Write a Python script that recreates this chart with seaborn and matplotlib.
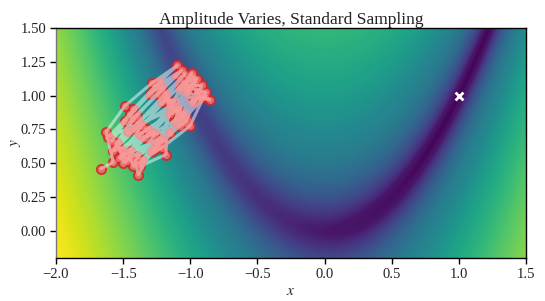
import numpy as np
import pandas as pd
import matplotlib
matplotlib.use("Agg")
import matplotlib.pyplot as plt
from matplotlib.colors import FuncNorm
import seaborn as sns

title = "Amplitude Varies, Standard Sampling"
xlabel = r"$x$"
ylabel = r"$y$"
xticks = [-2.0, -1.5, -1.0, -0.5, 0.0, 0.5, 1.0, 1.5]
yticks = [0.00, 0.25, 0.50, 0.75, 1.00, 1.25, 1.50]
path_x = [-1.665,-1.573,-1.627,-1.486,-1.287,-1.096,-1.230,-1.424,-1.585,-1.486,-1.300,-1.101,-1.238,-1.436,
          -1.560,-1.387,-1.188,-1.039,-1.213,-1.461,-1.573,-1.411,-1.151,-0.990,-1.114,-1.325,-1.523,-1.287,
          -1.151,-0.952,-1.052,-1.076,-1.337,-1.498,-1.486,-1.263,-1.039,-0.915,-1.002,-1.076,-1.225,-1.449,
          -1.424,-1.213,-1.002,-0.883,-0.952,-1.076,-1.263,-1.411,-1.387,-1.287,-1.151,-1.027,-0.853,-0.915,
          -1.163,-1.181,-1.374,-0.977,
          -1.610,-1.449,-1.263,-1.064,-1.213,-1.399,-1.548,-1.511,-1.362,-1.176,-1.014,-1.126,-1.312,-1.528,
          -1.474,-1.374,-1.089,-0.965,-0.977,-1.052,-1.238,-1.449,-1.399,-1.200,-1.027,-0.927,-1.027,-1.114,
          -1.263,-1.362,-0.890,-0.940]
path_y = [0.460,0.507,0.731,0.925,1.092,1.224,1.100,0.901,0.664,0.814,1.013,1.149,1.013,0.826,
          0.615,0.801,1.013,1.162,0.950,0.739,0.590,0.751,0.926,1.167,0.888,0.751,0.602,0.726,
          0.863,1.125,1.100,0.838,0.689,0.503,0.565,0.664,0.801,1.075,1.075,1.062,0.677,0.540,
          0.478,0.614,0.776,1.025,1.037,0.776,0.714,0.515,0.415,0.590,0.726,1.025,0.968,1.000,
          0.963,0.565,0.478,0.963,
          0.694,0.863,1.062,1.187,1.050,0.851,0.652,0.565,0.776,0.975,1.125,0.950,0.714,0.540,
          0.515,0.714,0.901,1.087,1.137,0.863,0.627,0.590,0.552,0.664,0.826,1.037,1.062,0.814,
          0.602,0.527,0.988,0.975]
optimum_x = [1.0]
optimum_y = [1.0]
# log10 of the surface value -> position on the colour map
shade_log = [-3.0, -1.0, 0.0, 0.6, 1.41, 1.78, 2.35, 3.25]
shade_pos = [0.0, 0.015, 0.06, 0.19, 0.40, 0.48, 0.66, 1.0]

sns.set_theme(style="ticks")
plt.rcParams["font.family"] = ["Liberation Serif", "DejaVu Serif"]
plt.rcParams["mathtext.fontset"] = "stix"

fig, ax = plt.subplots(figsize=(5.45, 3.01), dpi=100)
fig.subplots_adjust(left=56/545, right=526/545, top=1-28/301, bottom=1-258/301)

gx, gy = np.meshgrid(np.linspace(-2, 1.5, 600), np.linspace(-0.2, 1.5, 450))
field = (1 - gx)**2 + 100*(gy - gx**2)**2 + 1e-3
norm = FuncNorm((lambda v: np.interp(np.log10(v), shade_log, shade_pos),
                 lambda p: 10**np.interp(p, shade_pos, shade_log)), vmin=1e-3, vmax=10**3.25)
levels = 10**np.interp(np.linspace(0, 1, 220), shade_pos, shade_log)
ax.contourf(gx, gy, field, levels=levels, cmap="viridis", norm=norm, extend="both")

df = pd.DataFrame({"x": path_x, "y": path_y})
sns.scatterplot(data=df, x="x", y="y", ax=ax, s=50, color="#d62728", alpha=0.8,
                edgecolor="#d62728", linewidth=1.0, zorder=3, legend=False)
sns.lineplot(data=df, x="x", y="y", ax=ax, sort=False, estimator=None, color="white",
             alpha=0.5, linewidth=2.2, zorder=4, legend=False)
sns.scatterplot(data=df, x="x", y="y", ax=ax, s=26, color="#ff9999", alpha=0.55,
                linewidth=0, zorder=5, legend=False)
sns.scatterplot(x=optimum_x, y=optimum_y, ax=ax, marker="x", s=32, color="white",
                linewidth=2, zorder=6, legend=False)

ax.set_xlim(-2, 1.5)
ax.set_ylim(-0.2, 1.5)
ax.set_xticks(xticks)
ax.set_yticks(yticks)
ax.set_xticklabels([f"{v:.1f}".replace("-", "\u2212") for v in xticks])
ax.set_yticklabels([f"{v:.2f}" for v in yticks])
ax.tick_params(labelsize=10.5, length=4, width=1, color="black", labelcolor="#222222", pad=3)
ax.set_title(title, fontsize=12.6, color="#222222", pad=3)
ax.set_xlabel(xlabel, fontsize=11, color="#222222", labelpad=3)
ax.set_ylabel(ylabel, fontsize=11, color="#222222", labelpad=-2)
for s in ax.spines.values():
    s.set_linewidth(1.0)
    s.set_color("black")
    s.set_visible(True)
ax.spines["left"].set_color("#777777")
fig.savefig("out.png", dpi=100)
